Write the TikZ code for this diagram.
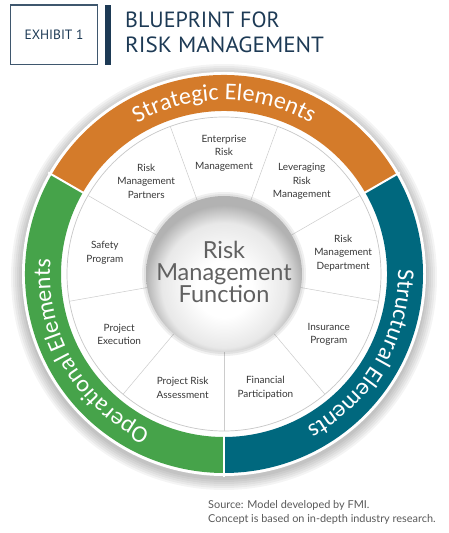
\documentclass[tikz,border=0pt]{standalone}
\usepackage{fontspec}
\setmainfont{Lato}
\newfontfamily\ringfont{Carlito}
\newfontfamily\titlefont{PT Sans}
\usetikzlibrary{decorations.text}

\definecolor{stratorange}{HTML}{D47B2A}
\definecolor{structteal}{HTML}{00687E}
\definecolor{operagreen}{HTML}{46A34A}
\definecolor{navyblue}{HTML}{1D3A55}

\pgfdeclareradialshading{riskball}{\pgfpoint{0bp}{-6bp}}{color(0bp)=(white); color(9bp)=(white); color(20bp)=(black!9); color(25bp)=(black!30); color(50bp)=(black!30)}

\newcommand\ringtext{\ringfont\fontsize{24}{24}\selectfont}

\begin{document}
\begin{tikzpicture}[x=1pt, y=1pt,
  seglabel/.style={align=center, font=\fontsize{10}{13.5}\selectfont, text=black!78, inner sep=0pt},
  ringlabel/.style={decorate, decoration={text along path, text align=center, text color=white, text={|\ringtext|#1}}},
  divider/.style={black!20, line width=0.5pt}]
	\useasboundingbox (0,0) rectangle (448,533);
	\coordinate (C) at (224,259);
	% title block
	\draw[navyblue!85, line width=1.3pt] (10.5,468.5) rectangle (97.5,528);
	\node[font=\titlefont\fontsize{13.5}{14}\selectfont, text=navyblue] (exhibit) at (54,498.5) {EXHIBIT 1};
	\fill[navyblue] (105,468) rectangle (111,528);
	\node[anchor=base west, inner sep=0pt, font=\titlefont\fontsize{22}{22}\selectfont, text=navyblue] (title1) at (125,505) {BLUEPRINT FOR};
	\node[anchor=base west, inner sep=0pt, font=\titlefont\fontsize{22}{22}\selectfont, text=navyblue, xscale=1.05] (title2) at (125,480) {RISK MANAGEMENT};
	% shadow and white rim
	\foreach \r in {203,205,...,213}
	  \fill[black, opacity=0.045] ([yshift=-3]C) circle (\r);
	\fill[white] (C) circle (202);
	% coloured ring
	\fill[stratorange] ([shift={(30:199)}]C) arc[start angle=30, end angle=150, radius=199]
	  -- ([shift={(150:163)}]C) arc[start angle=150, end angle=30, radius=163] -- cycle;
	\fill[operagreen] ([shift={(150:199)}]C) arc[start angle=150, end angle=270, radius=199]
	  -- ([shift={(270:163)}]C) arc[start angle=270, end angle=150, radius=163] -- cycle;
	\fill[structteal] ([shift={(270:199)}]C) arc[start angle=270, end angle=390, radius=199]
	  -- ([shift={(30:163)}]C) arc[start angle=30, end angle=-90, radius=163] -- cycle;
	\foreach \a in {30,150,270}
	  \draw[white, line width=2pt] ([shift={(\a:160)}]C) -- ([shift={(\a:203)}]C);
	\path[ringlabel=Strategic Elements] ([shift={(150:174)}]C) arc[start angle=150, end angle=30, radius=174];
	\path[ringlabel=Structural Elements] ([shift={(30:174)}]C) arc[start angle=30, end angle=-90, radius=174];
	\path[ringlabel=Operational Elements] ([shift={(270:174)}]C) arc[start angle=270, end angle=150, radius=174];
	% inner white disc
	\draw[black!22, line width=0.7pt] (C) circle (157);
	\foreach \a in {30,70,...,350}
	  \draw[divider] ([shift={(\a:78)}]C) -- ([shift={(\a:157)}]C);
	% centre ball
	\fill[black, opacity=0.06] (C) circle (82);
	\fill[black, opacity=0.06] (C) circle (80);
	\shade[shading=riskball] (C) circle (78);
	\node[align=center, font=\fontsize{23.5}{21.5}\selectfont, text=black!62] (core) at ([yshift=2]C) {Risk\\Management\\Function};
	% segment labels
	\foreach \a/\t [count=\i] in {90/{Enterprise\\Risk\\Management}, 50/{Leveraging\\Risk\\Management},
	    10/{Risk\\Management\\Department}, -30/{Insurance\\Program}, -70/{Financial\\Participation},
	    -110/{Project Risk\\Assessment}, -150/{Project\\Execution}, 170/{Safety\\Program},
	    130/{Risk\\Management\\Partners}}
	  \node[seglabel] (seg\i) at ([shift={(\a:121)}]C) {\t};
	% source note
	\node[anchor=base west, inner sep=0pt, font=\fontsize{10.9}{12}\selectfont, text=black!65] (src1) at (208,24) {Source: Model developed by FMI.};
	\node[anchor=base west, inner sep=0pt, font=\fontsize{10.9}{12}\selectfont, text=black!65] (src2) at (208,10) {Concept is based on in-depth industry research.};
\end{tikzpicture}
\end{document}
